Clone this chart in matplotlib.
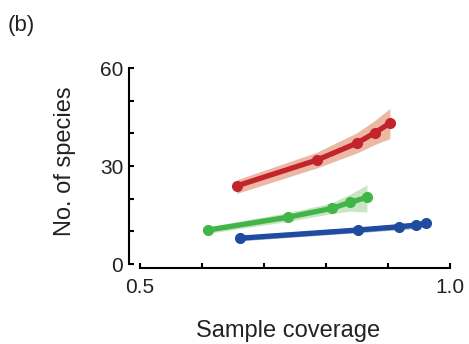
import matplotlib.pyplot as plt

plt.rcParams['font.family'] = ['Arial', 'Liberation Sans', 'DejaVu Sans']

# sample coverage vs. estimated richness (with confidence band)
red_x = [0.656, 0.785, 0.850, 0.879, 0.903]
red_y = [23.9, 31.8, 37.0, 40.2, 43.1]
red_lo = [21.6, 29.4, 34.0, 36.6, 38.4]
red_hi = [25.8, 34.2, 40.2, 44.0, 47.6]

green_x = [0.610, 0.738, 0.809, 0.839, 0.866]
green_y = [10.4, 14.3, 17.0, 18.9, 20.4]
green_lo = [9.4, 13.0, 15.4, 16.2, 15.9]
green_hi = [11.4, 15.7, 18.7, 21.4, 24.2]

blue_x = [0.661, 0.851, 0.917, 0.945, 0.962]
blue_y = [7.9, 10.4, 11.4, 11.9, 12.5]
blue_lo = [7.1, 9.6, 10.5, 10.9, 11.4]
blue_hi = [8.7, 11.2, 12.3, 12.9, 13.6]

series = [
    (red_x, red_y, red_lo, red_hi, '#c3242c', '#ecb8a4'),
    (green_x, green_y, green_lo, green_hi, '#42b549', '#c9e5c3'),
    (blue_x, blue_y, blue_lo, blue_hi, '#1f4c9f', '#9ba9d6'),
]

W, H = 469, 344
fig = plt.figure(figsize=(W / 100, H / 100), dpi=100)
ax = fig.add_axes([140 / W, (H - 264) / H, 310 / W, 196 / H])

for x, y, lo, hi, col, band in series:
    ax.fill_between(x, lo, hi, color=band, linewidth=0)
    ax.plot(x, y, color=col, lw=3.8, marker='o', ms=7, solid_capstyle='round')

ax.set_xlim(0.5, 1.0)
ax.set_ylim(0, 60)

ax.spines['top'].set_visible(False)
ax.spines['right'].set_visible(False)
ax.spines['left'].set_position(('outward', 8))
ax.spines['bottom'].set_position(('outward', 3))
for s in ['left', 'bottom']:
    ax.spines[s].set_linewidth(1.5)

ax.set_xticks([0.5, 0.6, 0.7, 0.8, 0.9, 1.0])
ax.set_xticklabels(['0.5', '', '', '', '', '1.0'])
ax.set_yticks([0, 10, 20, 30, 40, 50, 60])
ax.set_yticklabels(['0', '', '', '30', '', '', '60'])
ax.tick_params(direction='in', length=3.5, width=1.5, labelsize=15, colors='black')
ax.tick_params(axis='y', pad=4)
ax.tick_params(axis='x', pad=7)
for lab in ax.get_xticklabels() + ax.get_yticklabels():
    lab.set_color('#222222')

ax.set_xlabel('Sample coverage', fontsize=17, color='#222222')
ax.set_ylabel('No. of species', fontsize=17, color='#222222')
ax.xaxis.set_label_coords(0.477, -0.342)
ax.yaxis.set_label_coords(-0.242, 0.526)
ax.xaxis.label.set_va('center')
ax.yaxis.label.set_va('center')

fig.text(8 / W, 1 - 26 / H, '(b)', fontsize=16, color='#222222', va='center', ha='left')

fig.savefig('out.png', dpi=100)
